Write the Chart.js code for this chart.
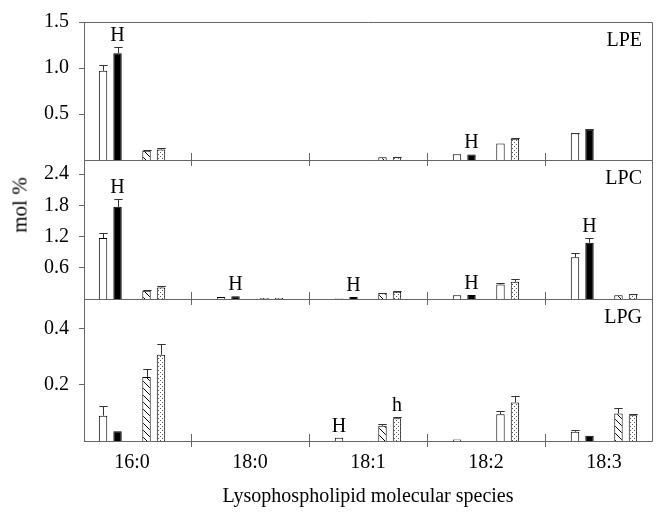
<!DOCTYPE html>
<html>
<head>
<meta charset="utf-8">
<script src="https://cdn.jsdelivr.net/npm/chart.js@4.4.1/dist/chart.umd.min.js"></script>
<style>
  body { margin: 0; background: #fff; }
  #wrap { position: relative; width: 662px; height: 516px; }
  #wrap canvas { position: absolute; left: 0; top: 0; }
  #ylab {
    position: absolute; left: 20px; top: 205px;
    transform: translate(-50%, -50%) rotate(-90deg);
    font: 21px 'Liberation Serif', 'Times New Roman', serif; white-space: nowrap;
  }
</style>
</head>
<body>
<div id="wrap">
  <canvas id="lpe" width="662" height="516"></canvas>
  <canvas id="lpc" width="662" height="516"></canvas>
  <canvas id="lpg" width="662" height="516"></canvas>
  <div id="ylab">mol %</div>
</div>
<script>
// categories (x axis)
const categories = ['16:0', '18:0', '18:1', '18:2', '18:3'];

// LPE - 4 series + error (upper only)
const lpeWhite = [0.97, 0, 0, 0.063, 0.29];
const lpeWhiteErr = [0.06, 0, 0, 0, 0.004];
const lpeBlack = [1.16, 0, 0, 0.06, 0.33];
const lpeBlackErr = [0.07, 0, 0, 0, 0.012];
const lpeHatch = [0.10, 0, 0.03, 0.18, 0];
const lpeHatchErr = [0.005, 0, 0, 0, 0];
const lpeDot = [0.115, 0, 0.03, 0.23, 0];
const lpeDotErr = [0.012, 0, 0.003, 0.012, 0];
const lpeTicks = [0.5, 1.0, 1.5];
const lpeMarks = [[1, 0, 'H'], [1, 3, 'H']];

// LPC
const lpcWhite = [1.17, 0.04, 0.01, 0.07, 0.80];
const lpcWhiteErr = [0.1, 0, 0, 0, 0.08];
const lpcBlack = [1.77, 0.055, 0.04, 0.075, 1.08];
const lpcBlackErr = [0.15, 0, 0, 0, 0.1];
const lpcHatch = [0.16, 0.02, 0.11, 0.28, 0.07];
const lpcHatchErr = [0.01, 0, 0.01, 0.03, 0];
const lpcDot = [0.22, 0.02, 0.14, 0.33, 0.09];
const lpcDotErr = [0.03, 0, 0.01, 0.05, 0.01];
const lpcTicks = [0.6, 1.2, 1.8, 2.4];
const lpcMarks = [[1, 0, 'H'], [1, 1, 'H'], [1, 2, 'H'], [1, 3, 'H'], [1, 4, 'H']];

// LPG
const lpgWhite = [0.09, 0, 0.012, 0.005, 0.033];
const lpgWhiteErr = [0.033, 0, 0, 0, 0.005];
const lpgBlack = [0.035, 0, 0, 0, 0.019];
const lpgBlackErr = [0, 0, 0, 0, 0];
const lpgHatch = [0.228, 0, 0.054, 0.095, 0.098];
const lpgHatchErr = [0.029, 0, 0.006, 0.011, 0.018];
const lpgDot = [0.307, 0, 0.081, 0.137, 0.092];
const lpgDotErr = [0.039, 0, 0.006, 0.023, 0.003];
const lpgTicks = [0.2, 0.4];
const lpgMarks = [[0, 2, 'H'], [3, 2, 'h']];

const FONT = "'Liberation Serif', 'Times New Roman', serif";
const LINE = '#666';
Chart.defaults.font.family = FONT;
Chart.defaults.font.size = 20;
Chart.defaults.color = '#000';

function tile(w, h, draw) {
    const c = document.createElement('canvas');
    c.width = w; c.height = h;
    const g = c.getContext('2d');
    g.fillStyle = '#fff';
    g.fillRect(0, 0, w, h);
    draw(g);
    return g.createPattern(c, 'repeat');
}
const hatch = tile(7, 7, g => {
    g.strokeStyle = '#000'; g.lineWidth = 1;
    g.beginPath();
    g.moveTo(0, 0); g.lineTo(7, 7);
    g.moveTo(-1, 6); g.lineTo(1, 8);
    g.moveTo(6, -1); g.lineTo(8, 1);
    g.stroke();
});
const dots = tile(4, 4, g => {
    g.fillStyle = '#555';
    g.fillRect(0, 0, 1, 1);
    g.fillRect(2, 2, 1, 1);
});
// 18:2 third bar is drawn plain white in the figure
const hatchFill = categories.map((c, i) => i === 3 ? '#fff' : hatch);

// error bars, letters, panel frame, boundary ticks
const decor = {
    id: 'decor',
    afterDatasetsDraw(chart, args, opts) {
        const { ctx, chartArea: a, scales: { x, y } } = chart;
        ctx.save();
        ctx.strokeStyle = '#333';
        ctx.lineWidth = 1;
        const tops = {};
        chart.data.datasets.forEach((ds, di) => {
            const meta = chart.getDatasetMeta(di);
            meta.data.forEach((bar, i) => {
                if (!ds.err) return;
                const v = ds.data[i].y;
                const e = ds.err[i];
                let top = y.getPixelForValue(v);
                if (e > 0) {
                    top = y.getPixelForValue(v + e);
                    const bx = Math.round(bar.x) + 0.5;
                    const hw = bar.width / 2;
                    ctx.beginPath();
                    ctx.moveTo(bx, y.getPixelForValue(v));
                    ctx.lineTo(bx, Math.round(top) + 0.5);
                    ctx.moveTo(bx - hw, Math.round(top) + 0.5);
                    ctx.lineTo(bx + hw, Math.round(top) + 0.5);
                    ctx.stroke();
                }
                tops[ds.slot + '_' + i] = { x: bar.x, top };
            });
        });
        ctx.fillStyle = '#000';
        ctx.font = '20px ' + FONT;
        ctx.textAlign = 'center';
        ctx.textBaseline = 'alphabetic';
        opts.marks.forEach(([s, i, t]) => {
            const p = tops[s + '_' + i];
            ctx.fillText(t, p.x, p.top - 6);
        });
        // frame
        ctx.strokeStyle = LINE;
        ctx.beginPath();
        ctx.moveTo(a.left, Math.round(a.top) + 0.5);
        ctx.lineTo(Math.round(a.right) + 0.5, Math.round(a.top) + 0.5);
        ctx.lineTo(Math.round(a.right) + 0.5, Math.round(a.bottom) + 0.5);
        ctx.lineTo(a.left, Math.round(a.bottom) + 0.5);
        for (let k = 0; k < categories.length - 1; k++) {
            const px = Math.round(x.getPixelForValue(k + 0.5)) + 0.5;
            ctx.moveTo(px, a.bottom - 7);
            ctx.lineTo(px, a.bottom + 6);
        }
        ctx.stroke();
        ctx.font = '20px ' + FONT;
        ctx.textAlign = 'right';
        ctx.textBaseline = 'middle';
        ctx.fillText(opts.name, a.right - 10, a.top + 19);
        ctx.restore();
    }
};

function points(vals) {
    return vals.map((v, i) => ({ x: i, y: v }));
}

function panel(id, name, series, yMax, yTicks, marks, pad, bottomAxis) {
    const fills = ['#fff', '#000', '#fff', hatchFill, dots];
    const datasets = [0, 1, 2, 3, 4].map(slot => {
        if (slot === 2) {
            return { slot, data: categories.map((c, i) => ({ x: i, y: null })) };
        }
        const si = slot > 2 ? slot - 1 : slot;
        return {
            slot: si,
            data: points(series[si][0]),
            err: series[si][1],
            backgroundColor: fills[slot],
            borderColor: '#000',
            borderWidth: 1
        };
    });
    return new Chart(document.getElementById(id), {
        type: 'bar',
        data: { datasets },
        options: {
            responsive: false,
            animation: false,
            events: [],
            layout: { padding: pad },
            datasets: { bar: { categoryPercentage: 0.614, barPercentage: 0.58 } },
            plugins: {
                legend: { display: false },
                tooltip: { enabled: false },
                decor: { name, marks }
            },
            scales: {
                x: {
                    type: 'linear',
                    offset: false,
                    min: -0.407,
                    max: 4.407,
                    display: bottomAxis,
                    grid: { display: false, drawTicks: false },
                    border: { display: false },
                    afterBuildTicks: s => { s.ticks = categories.map((c, i) => ({ value: i })); },
                    afterFit: s => { s.height = bottomAxis ? 75 : 0; },
                    ticks: {
                        padding: 10,
                        font: { size: 20 },
                        callback: v => categories[v]
                    },
                    title: {
                        display: true,
                        text: 'Lysophospholipid molecular species',
                        font: { size: 20 },
                        padding: { top: 0, bottom: 7 }
                    }
                },
                y: {
                    min: 0,
                    max: yMax,
                    afterBuildTicks: s => { s.ticks = yTicks.map(v => ({ value: v })); },
                    afterFit: s => { s.width = 84; },
                    grid: { drawOnChartArea: false, drawTicks: true, tickLength: 5, color: LINE },
                    border: { display: true, color: LINE },
                    ticks: {
                        padding: 10,
                        font: { size: 20 },
                        callback: v => v.toFixed(1)
                    }
                }
            }
        },
        plugins: [decor]
    });
}

panel('lpe', 'LPE',
    [[lpeWhite, lpeWhiteErr], [lpeBlack, lpeBlackErr], [lpeHatch, lpeHatchErr], [lpeDot, lpeDotErr]],
    1.5, lpeTicks, lpeMarks, { top: 17, right: 10, bottom: 356, left: 0 }, false);
panel('lpc', 'LPC',
    [[lpcWhite, lpcWhiteErr], [lpcBlack, lpcBlackErr], [lpcHatch, lpcHatchErr], [lpcDot, lpcDotErr]],
    2.67, lpcTicks, lpcMarks, { top: 160, right: 10, bottom: 217, left: 0 }, false);
panel('lpg', 'LPG',
    [[lpgWhite, lpgWhiteErr], [lpgBlack, lpgBlackErr], [lpgHatch, lpgHatchErr], [lpgDot, lpgDotErr]],
    0.505, lpgTicks, lpgMarks, { top: 299, right: 10, bottom: 0, left: 0 }, true);
</script>
</body>
</html>
